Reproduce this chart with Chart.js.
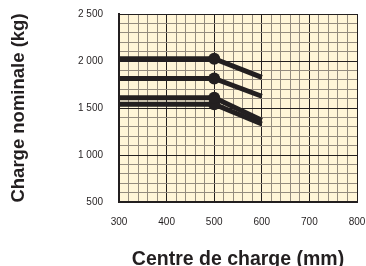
<!DOCTYPE html>
<html>
<head>
<meta charset="utf-8">
<script src="https://cdn.jsdelivr.net/npm/chart.js@4"></script>
<style>
  html, body { margin: 0; padding: 0; background: #fff; }
  canvas { display: block; }
</style>
</head>
<body>
<canvas id="loadChart" width="366" height="266"></canvas>
<script>
const loadCentres = [300, 500, 600];
const mastA = [2025, 2025, 1825];
const mastB = [1815, 1815, 1625];
const mastC = [1610, 1610, 1370];
const mastD = [1540, 1540, 1330];

const xTickValues = [300, 400, 500, 600, 700, 800];
const yTickValues = [500, 1000, 1500, 2000, 2500];

const ink = '#231f20';
const minorGrid = '#948b7e';
const paper = '#fff5d8';
const noTick = 'rgba(0,0,0,0)';

const toPoints = values => loadCentres.map((x, i) => ({ x, y: values[i] }));

const lineDataset = values => ({
  data: toPoints(values),
  borderColor: ink,
  backgroundColor: ink,
  borderWidth: 5,
  borderCapStyle: 'butt',
  tension: 0,
  pointRadius: [0, 6, 0],
  pointHoverRadius: [0, 6, 0],
  pointBorderWidth: 0,
  fill: false
});

const paperBackground = {
  id: 'paperBackground',
  beforeDraw(chart) {
    const { ctx, chartArea: a } = chart;
    ctx.save();
    ctx.fillStyle = paper;
    ctx.fillRect(a.left, a.top, a.right - a.left, a.bottom - a.top);
    ctx.restore();
  }
};

const fmtThousands = v => String(v).replace(/\B(?=(\d{3})+(?!\d))/g, ' ');

new Chart(document.getElementById('loadChart'), {
  type: 'line',
  data: {
    datasets: [lineDataset(mastA), lineDataset(mastB), lineDataset(mastC), lineDataset(mastD)]
  },
  options: {
    responsive: false,
    animation: false,
    devicePixelRatio: 1,
    layout: { padding: { top: 14, right: 9, left: 0, bottom: 0 } },
    plugins: {
      legend: { display: false },
      tooltip: { enabled: false }
    },
    scales: {
      x: {
        type: 'linear',
        min: 300,
        max: 800,
        afterFit: scale => { scale.height = 64; },
        ticks: {
          stepSize: 20,
          autoSkip: false,
          maxRotation: 0,
          padding: 0,
          color: ink,
          font: { family: 'Liberation Sans, Arial, sans-serif', size: 10 },
          callback: v => xTickValues.includes(v) ? String(v) : ''
        },
        grid: {
          drawTicks: true,
          tickLength: 14,
          tickColor: noTick,
          color: c => xTickValues.includes(c.tick.value) ? ink : minorGrid,
          lineWidth: 1
        },
        border: { display: true, color: ink, width: 2 },
        title: {
          display: true,
          text: 'Centre de charge (mm)',
          color: ink,
          font: { family: 'Liberation Sans, Arial, sans-serif', size: 19.5, weight: 'bold' },
          padding: { top: 0, bottom: -5 }
        }
      },
      y: {
        min: 500,
        max: 2500,
        afterFit: scale => { scale.width = 119; },
        ticks: {
          stepSize: 100,
          autoSkip: false,
          padding: 0,
          color: ink,
          font: { family: 'Liberation Sans, Arial, sans-serif', size: 10 },
          callback: v => yTickValues.includes(v) ? fmtThousands(v) : ''
        },
        grid: {
          drawTicks: true,
          tickLength: 16,
          tickColor: noTick,
          color: c => yTickValues.includes(c.tick.value) ? ink : minorGrid,
          lineWidth: 1
        },
        border: { display: true, color: ink, width: 2 },
        title: {
          display: true,
          text: 'Charge nominale (kg)',
          color: ink,
          font: { family: 'Liberation Sans, Arial, sans-serif', size: 18.5, weight: 'bold' },
          padding: { top: 8, bottom: 0 }
        }
      }
    }
  },
  plugins: [paperBackground]
});
</script>
</body>
</html>
